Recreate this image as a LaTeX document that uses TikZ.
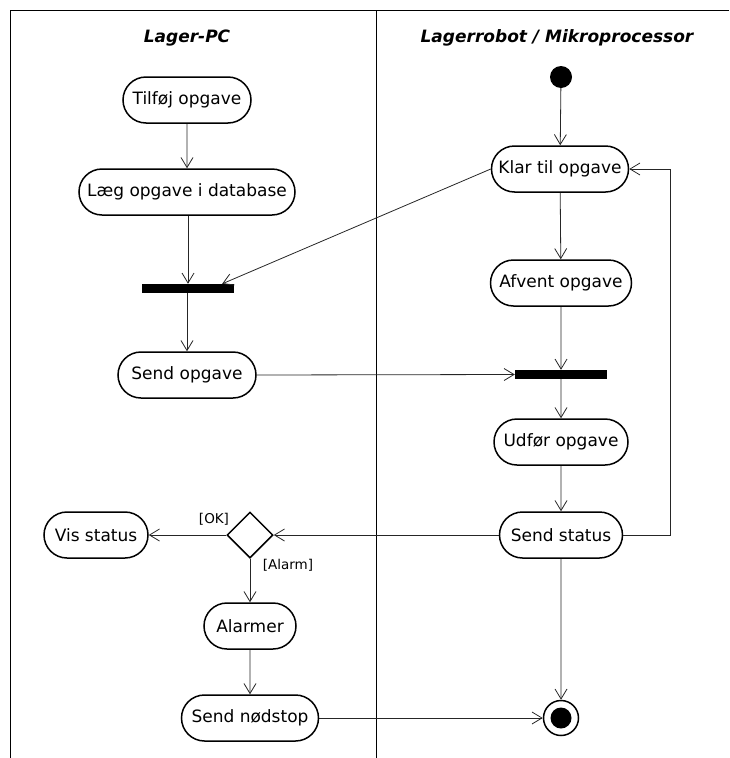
\documentclass[tikz,border=0pt]{standalone}
\usepackage{fontspec}
\setmainfont{DejaVu Sans}
\usetikzlibrary{arrows.meta,shapes.misc,shapes.geometric}
\begin{document}
\begin{tikzpicture}[x=1pt,y=-1pt,
  actbox/.style={rounded rectangle, draw, line width=1.5pt, minimum height=46pt,
    inner xsep=0pt, font=\fontsize{17}{20}\selectfont},
  forkbar/.style={fill=black, minimum width=92pt, minimum height=9pt, inner sep=0pt},
  lane/.style={line width=0.8pt},
  flow/.style={draw=black!85, line width=0.8pt, -{Straight Barb[length=10pt,width=12pt]}},
  lanetitle/.style={font=\fontsize{17}{20}\selectfont\bfseries\itshape},
  guard/.style={font=\fontsize{13.5}{16}\selectfont}]
\useasboundingbox (0,0) rectangle (729,758);

% swimlane frame
\draw[lane] (729,10) -- (10,10) -- (10,758);
\draw[lane] (376,10) -- (376,758);
\node[lanetitle] (titleL) at (187,38) {Lager-PC};
\node[lanetitle] (titleR) at (557,38) {Lagerrobot / Mikroprocessor};

% left lane
\node[actbox, minimum width=128pt] (tilfoj) at (187,100) {Tilføj opgave};
\node[actbox, minimum width=216pt] (laeg) at (187,192) {Læg opgave i database};
\node[forkbar] (forkL) at (188,288.5) {};
\node[actbox, minimum width=138pt] (sendopg) at (187,375) {Send opgave};
\node[diamond, draw, line width=1.5pt, minimum width=46pt, minimum height=46pt, inner sep=0pt] (dec) at (250,535) {};
\node[actbox, minimum width=104pt] (visstatus) at (96,535) {Vis status};
\node[actbox, minimum width=92pt] (alarmer) at (250,626) {Alarmer};
\node[actbox, minimum width=137pt] (nodstop) at (250,718) {Send nødstop};

% right lane
\node[circle, fill=black, minimum size=22pt, inner sep=0pt] (start) at (561,77) {};
\node[actbox, minimum width=137pt] (klar) at (560,169) {Klar til opgave};
\node[actbox, minimum width=141pt] (afvent) at (561,283) {Afvent opgave};
\node[forkbar] (forkR) at (561,374.5) {};
\node[actbox, minimum width=134pt] (udfor) at (561,442) {Udfør opgave};
\node[actbox, minimum width=123pt] (sendstatus) at (561,535) {Send status};
\node[circle, draw, line width=1.5pt, minimum size=35pt, inner sep=0pt,
  path picture={\fill (path picture bounding box.center) circle (10.5pt);}] (final) at (561,718) {};

% guards
\node[guard] (okL) at (214,519) {[OK]};
\node[guard] (alarmL) at (288,565) {[Alarm]};

% flows
\draw[flow] (tilfoj) -- (laeg);
\draw[flow] (laeg.south -| forkL.north) -- (forkL.north);
\draw[flow] (klar.west) -- ([xshift=-12pt]forkL.north east);
\draw[flow] (forkL.south -| sendopg.north) -- (sendopg.north);
\draw[flow] (sendopg.east) -- (forkR.west);
\draw[flow] (start) -- (klar);
\draw[flow] (klar) -- (afvent);
\draw[flow] (afvent) -- (forkR);
\draw[flow] (forkR) -- (udfor);
\draw[flow] (udfor) -- (sendstatus);
\draw[flow] (sendstatus.east) -- (670,535) |- (klar.east);
\draw[flow] (sendstatus.west) -- (dec.east);
\draw[flow] (dec.west) -- (visstatus.east);
\draw[flow] (dec.south) -- (alarmer.north);
\draw[flow] (alarmer) -- (nodstop);
\draw[flow] (sendstatus) -- (final);
\draw[flow] (nodstop.east) -- (final.west);
\end{tikzpicture}
\end{document}
